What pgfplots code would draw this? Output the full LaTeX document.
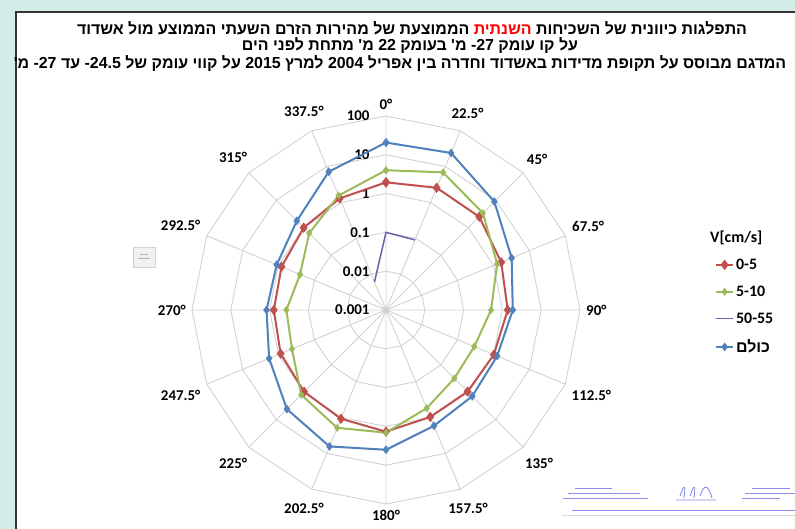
\documentclass[border=0pt]{standalone}
\usepackage{pgfplots}
\pgfplotsset{compat=1.18}
\usepgfplotslibrary{polar}
\usepackage{fontspec}
\setmainfont{Carlito}
\newfontfamily\hebfont[Script=Hebrew]{Liberation Sans}
\TeXXeTstate=1
\definecolor{bgteal}{HTML}{D3ECE7}
\definecolor{cred}{HTML}{C0504D}
\definecolor{cgreen}{HTML}{9BBB59}
\definecolor{cpurple}{HTML}{6A5FAA}
\definecolor{cblue}{HTML}{4F81BD}
\definecolor{gridc}{HTML}{D2D2D2}
\definecolor{logoblue}{HTML}{8C8CEA}
\begin{document}
\begin{tikzpicture}[x=1bp,y=1bp]
\useasboundingbox (0,0) rectangle (795,529);
\clip (0,0) rectangle (795,529);
\fill[bgteal] (0,0) rectangle (795,529);
\fill[white] (16,-2) rectangle (797,517);
\draw[line width=2bp, black!80] (16,-2) -- (16,517) -- (797,517);
% titles
\node[font=\hebfont\bfseries\fontsize{16}{18}\selectfont, inner sep=0] at (412,501)
 {\beginR הממוצעת של מהירות הזרם השעתי הממוצע מול אשדוד\endR\ {\color{red}\beginR השנתית\endR}\ \beginR התפלגות כיוונית של השכיחות\endR};
\node[font=\hebfont\bfseries\fontsize{16}{18}\selectfont, inner sep=0] at (410,483)
 {\beginR על קו עומק \beginL27\endL- מ' בעומק \beginL22\endL\ מ' מתחת לפני הים\endR};
\node[font=\hebfont\bfseries\fontsize{16}{18}\selectfont, inner sep=0] at (400,465)
 {\beginR המדגם מבוסס על תקופת מדידות באשדוד וחדרה בין אפריל \beginL2004\endL\ למרץ \beginL2015\endL\ על קווי עומק של \beginL24.5\endL- עד \beginL27\endL- מ'\endR};
% small icon
\filldraw[fill=gray!12, draw=gray!35] (133,262) rectangle (155,282);
\draw[gray!60, line width=1bp] (138,270) -- (150,270) (140,274) -- (148,274);
% logo
\begin{scope}[logoblue, line width=0.9bp]
\draw (575,41) -- (612,41) (568,36) -- (640,36) (563,31) -- (648,31);
\draw (680,33) .. controls (684,45) and (686,45) .. (684,31) (690,33) .. controls (694,45) and (696,45) .. (694,31) (700,33) .. controls (704,45) and (708,45) .. (712,31) (676,29) -- (716,29);
\draw (752,41) -- (790,41) (745,36) -- (795,36) (742,31) -- (780,31);
\draw (572,19) -- (795,19);
\draw[gray!30, line width=0.6bp] (562,14) -- (795,14);
\end{scope}
\begin{polaraxis}[
  at={(386bp,219bp)}, anchor=center,
  width=388bp, height=388bp, scale only axis,
  xmin=0, xmax=360, ymin=0, ymax=5,
  xtick={0,22.5,...,337.5},
  xticklabels={90°,67.5°,45°,22.5°,0°,337.5°,315°,292.5°,270°,247.5°,225°,202.5°,180°,157.5°,135°,112.5°},
  ytick=\empty,
  xmajorgrids, grid style={gridc, line width=0.9bp},
  axis line style={draw=none},
  major tick length=0,
  xticklabel style={font=\bfseries\fontsize{15}{17}\selectfont, inner sep=6bp},
  clip=false,
  legend style={at={(1.34,0.715)}, anchor=north west, draw=none, fill=none,
    font=\bfseries\fontsize{16}{18}\selectfont, row sep=11bp},
  legend cell align=left,
]
\pgfplotsinvokeforeach{1,2,3,4,5}{
 \draw[gridc, line width=0.9bp] (axis cs:0,#1) -- (axis cs:22.5,#1) -- (axis cs:45,#1) -- (axis cs:67.5,#1) -- (axis cs:90,#1) -- (axis cs:112.5,#1) -- (axis cs:135,#1) -- (axis cs:157.5,#1) -- (axis cs:180,#1) -- (axis cs:202.5,#1) -- (axis cs:225,#1) -- (axis cs:247.5,#1) -- (axis cs:270,#1) -- (axis cs:292.5,#1) -- (axis cs:315,#1) -- (axis cs:337.5,#1) -- cycle;
}
\begin{scope}[every node/.style={anchor=east, xshift=-13bp, font=\bfseries\fontsize{15}{17}\selectfont}]
\node at (axis cs:90,5) {100};
\node at (axis cs:90,4) {10};
\node at (axis cs:90,3) {1};
\node at (axis cs:90,2) {0.1};
\node at (axis cs:90,1) {0.01};
\node at (axis cs:90,0) {0.001};
\end{scope}
\addlegendimage{empty legend}
\addlegendentry{\hspace{-26bp}V[cm/s]}
\addplot[cred, line width=2bp, mark=diamond*, mark size=3.6bp,
  x filter/.expression={mod(450-x,360)}, y filter/.expression={log10(y)+3}]
 coordinates {(0,1.95) (22.5,2.57) (45,2.5) (67.5,1.64) (90,1.37) (112.5,1.02) (135,0.94) (157.5,0.96) (180,1.37) (202.5,1.08) (225,0.96) (247.5,0.87) (270,0.78) (292.5,0.82) (315,1.0) (337.5,1.3) (360,1.95)};
\addlegendentry{0-5}
\addplot[cgreen, line width=2bp, mark=diamond*, mark size=2.4bp,
  x filter/.expression={mod(450-x,360)}, y filter/.expression={log10(y)+3}]
 coordinates {(0,4.0) (22.5,6.9) (45,3.4) (67.5,1.26) (90,0.51) (112.5,0.29) (135,0.31) (157.5,0.55) (180,1.45) (202.5,1.94) (225,1.23) (247.5,0.42) (270,0.37) (292.5,0.25) (315,0.63) (337.5,1.56) (360,4.0)};
\addlegendentry{5-10}
\addplot[cpurple, line width=1.5bp, mark=none,
  x filter/.expression={mod(450-x,360)}, y filter/.expression={log10(y)+3}]
 coordinates {(337.5,0.006) (360,0.1) (22.5,0.09)};
\addlegendentry{50-55}
\addplot[cblue, line width=2bp, mark=diamond*, mark size=2.8bp,
  x filter/.expression={mod(450-x,360)}, y filter/.expression={log10(y)+3}]
 coordinates {(0,20.7) (22.5,24) (45,8.9) (67.5,3.2) (90,1.85) (112.5,1.26) (135,1.39) (157.5,1.7) (180,4.0) (202.5,6.4) (225,4.1) (247.5,1.82) (270,1.2) (292.5,1.12) (315,1.78) (337.5,7.2) (360,20.7)};
\addlegendentry{\hebfont\bfseries\beginR כולם\endR}
\end{polaraxis}
\end{tikzpicture}
\end{document}
